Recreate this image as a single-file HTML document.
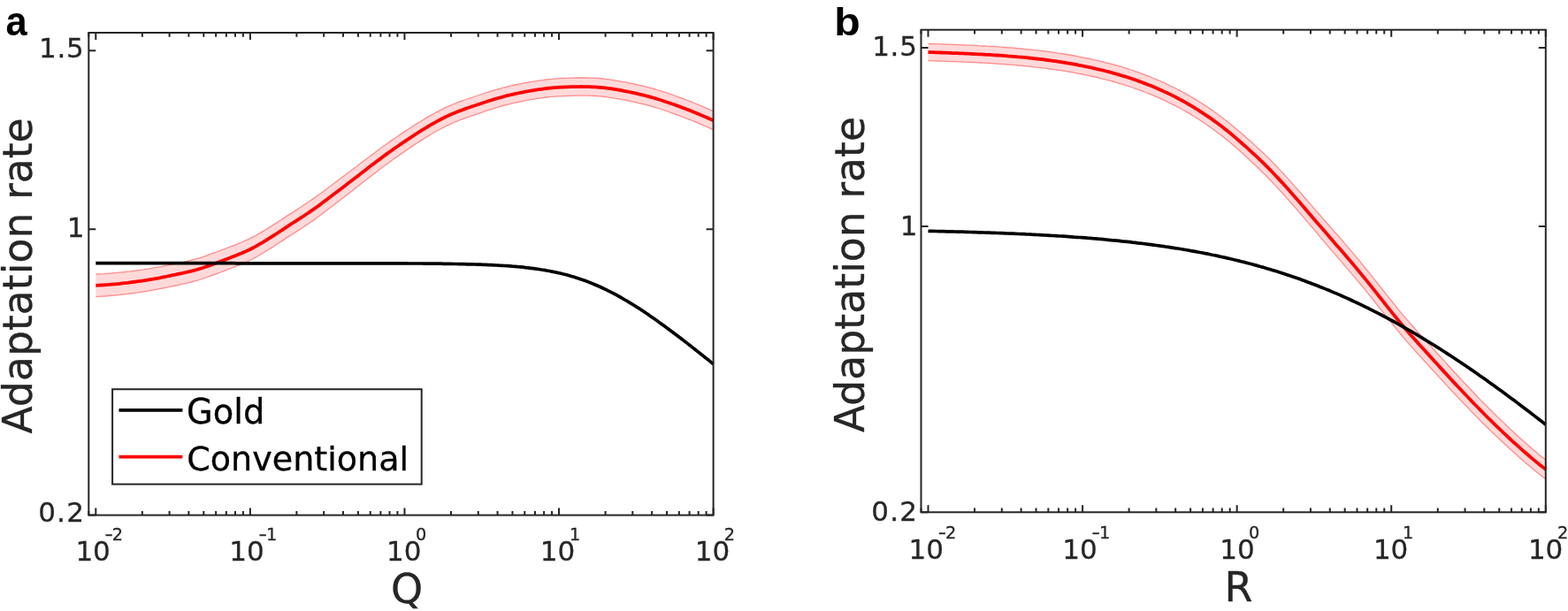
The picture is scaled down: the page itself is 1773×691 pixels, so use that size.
<!DOCTYPE html>
<html><head><meta charset="utf-8"><title>Adaptation rate</title>
<style>
html,body{margin:0;padding:0;background:#fff;}
svg{display:block;}
text{font-family:"DejaVu Sans","Liberation Sans",sans-serif;fill:#262626;stroke:#262626;stroke-width:0.3px;}
.pl{font-family:"Liberation Sans",Arial,sans-serif;font-weight:bold;fill:#000;stroke:none;}
.lg{fill:#000;stroke:#000;}
</style></head>
<body>
<svg width="1773" height="691" viewBox="0 0 1773 691">
<rect width="1773" height="691" fill="#fff"/>
<path d="M108.3,310.2 111.3,310.0 114.3,309.9 117.3,309.7 120.3,309.4 123.3,309.2 126.3,309.0 129.3,308.7 132.3,308.4 135.3,308.1 138.3,307.8 141.3,307.5 144.3,307.2 147.3,306.9 150.3,306.5 153.3,306.1 156.3,305.7 159.3,305.3 162.3,304.9 165.3,304.4 168.3,303.9 171.3,303.4 174.3,302.9 177.3,302.4 180.3,301.8 183.3,301.3 186.3,300.7 189.3,300.1 192.3,299.4 195.3,298.8 198.3,298.2 201.3,297.5 204.3,296.9 207.3,296.3 210.3,295.6 213.3,295.0 216.3,294.2 219.3,293.5 222.3,292.6 225.3,291.8 228.3,290.8 231.3,289.8 234.3,288.8 237.3,287.7 240.3,286.7 243.3,285.6 246.3,284.5 249.3,283.3 252.3,282.2 255.3,281.0 258.3,279.9 261.3,278.7 264.3,277.6 267.3,276.4 270.3,275.2 273.3,274.0 276.3,272.7 279.3,271.3 282.3,269.9 285.3,268.4 288.3,266.8 291.3,265.1 294.3,263.4 297.3,261.6 300.3,259.8 303.3,257.9 306.3,256.1 309.3,254.1 312.3,252.2 315.3,250.3 318.3,248.3 321.3,246.4 324.3,244.4 327.3,242.4 330.3,240.5 333.3,238.6 336.3,236.6 339.3,234.7 342.3,232.8 345.3,230.8 348.3,228.8 351.3,226.7 354.3,224.6 357.3,222.5 360.3,220.3 363.3,218.2 366.3,215.9 369.3,213.7 372.3,211.4 375.3,209.2 378.3,206.9 381.3,204.7 384.3,202.4 387.3,200.1 390.3,197.9 393.3,195.6 396.3,193.4 399.3,191.1 402.3,188.9 405.3,186.6 408.3,184.3 411.3,182.0 414.3,179.7 417.3,177.5 420.3,175.2 423.3,173.0 426.3,170.7 429.3,168.5 432.3,166.3 435.3,164.2 438.3,162.0 441.3,159.9 444.3,157.8 447.3,155.7 450.3,153.7 453.3,151.6 456.3,149.6 459.3,147.6 462.3,145.7 465.3,143.7 468.3,141.8 471.3,139.9 474.3,138.0 477.3,136.2 480.3,134.4 483.3,132.6 486.3,130.9 489.3,129.2 492.3,127.5 495.3,125.9 498.3,124.3 501.3,122.8 504.3,121.4 507.3,120.1 510.3,118.8 513.3,117.5 516.3,116.4 519.3,115.2 522.3,114.1 525.3,113.0 528.3,112.0 531.3,111.0 534.3,110.0 537.3,109.0 540.3,108.0 543.3,107.0 546.3,106.0 549.3,105.0 552.3,104.1 555.3,103.1 558.3,102.2 561.3,101.3 564.3,100.5 567.3,99.7 570.3,98.9 573.3,98.1 576.3,97.4 579.3,96.7 582.3,96.0 585.3,95.4 588.3,94.8 591.3,94.2 594.3,93.7 597.3,93.1 600.3,92.6 603.3,92.1 606.3,91.7 609.3,91.2 612.3,90.8 615.3,90.4 618.3,90.0 621.3,89.7 624.3,89.4 627.3,89.1 630.3,88.9 633.3,88.7 636.3,88.5 639.3,88.4 642.3,88.3 645.3,88.2 648.3,88.1 651.3,88.0 654.3,88.0 657.3,88.0 660.3,88.0 663.3,88.0 666.3,88.1 669.3,88.2 672.3,88.3 675.3,88.5 678.3,88.7 681.3,89.0 684.3,89.4 687.3,89.7 690.3,90.2 693.3,90.6 696.3,91.1 699.3,91.6 702.3,92.1 705.3,92.7 708.3,93.2 711.3,93.8 714.3,94.4 717.3,95.0 720.3,95.7 723.3,96.4 726.3,97.1 729.3,97.8 732.3,98.6 735.3,99.4 738.3,100.2 741.3,101.1 744.3,102.0 747.3,102.9 750.3,103.9 753.3,104.9 756.3,105.9 759.3,106.9 762.3,108.0 765.3,109.1 768.3,110.1 771.3,111.2 774.3,112.3 777.3,113.5 780.3,114.6 783.3,115.8 786.3,117.0 789.3,118.3 792.3,119.5 795.3,120.8 798.3,122.1 801.3,123.4 804.3,124.8 806.6,125.8 L806.6,146.8 804.3,145.8 801.3,144.4 798.3,143.0 795.3,141.7 792.3,140.4 789.3,139.1 786.3,137.9 783.3,136.6 780.3,135.4 777.3,134.3 774.3,133.1 771.3,132.0 768.3,130.8 765.3,129.7 762.3,128.7 759.3,127.6 756.3,126.5 753.3,125.5 750.3,124.5 747.3,123.5 744.3,122.5 741.3,121.6 738.3,120.7 735.3,119.9 732.3,119.0 729.3,118.2 726.3,117.5 723.3,116.8 720.3,116.1 717.3,115.4 714.3,114.7 711.3,114.1 708.3,113.5 705.3,112.9 702.3,112.3 699.3,111.8 696.3,111.3 693.3,110.8 690.3,110.3 687.3,109.9 684.3,109.5 681.3,109.2 678.3,108.9 675.3,108.7 672.3,108.5 669.3,108.3 666.3,108.2 663.3,108.2 660.3,108.1 657.3,108.1 654.3,108.1 651.3,108.1 648.3,108.2 645.3,108.3 642.3,108.3 639.3,108.5 636.3,108.6 633.3,108.8 630.3,108.9 627.3,109.2 624.3,109.4 621.3,109.7 618.3,110.0 615.3,110.4 612.3,110.8 609.3,111.2 606.3,111.7 603.3,112.1 600.3,112.6 597.3,113.2 594.3,113.7 591.3,114.3 588.3,114.9 585.3,115.5 582.3,116.2 579.3,116.9 576.3,117.6 573.3,118.4 570.3,119.2 567.3,120.0 564.3,120.8 561.3,121.7 558.3,122.6 555.3,123.6 552.3,124.6 549.3,125.5 546.3,126.6 543.3,127.6 540.3,128.6 537.3,129.6 534.3,130.6 531.3,131.6 528.3,132.7 525.3,133.8 522.3,134.9 519.3,136.0 516.3,137.3 513.3,138.5 510.3,139.8 507.3,141.2 504.3,142.6 501.3,144.1 498.3,145.7 495.3,147.3 492.3,149.0 489.3,150.7 486.3,152.5 483.3,154.4 480.3,156.2 477.3,158.1 474.3,160.0 471.3,162.0 468.3,163.9 465.3,165.9 462.3,168.0 459.3,170.0 456.3,172.1 453.3,174.1 450.3,176.2 447.3,178.4 444.3,180.5 441.3,182.7 438.3,184.9 435.3,187.1 432.3,189.3 429.3,191.6 426.3,193.9 423.3,196.2 420.3,198.5 417.3,200.8 414.3,203.1 411.3,205.5 408.3,207.8 405.3,210.2 402.3,212.5 399.3,214.9 396.3,217.2 393.3,219.5 390.3,221.8 387.3,224.2 384.3,226.5 381.3,228.8 378.3,231.1 375.3,233.5 372.3,235.8 369.3,238.1 366.3,240.3 363.3,242.6 360.3,244.8 357.3,246.9 354.3,249.1 351.3,251.2 348.3,253.2 345.3,255.2 342.3,257.2 339.3,259.2 336.3,261.1 333.3,263.1 330.3,265.0 327.3,266.9 324.3,268.9 321.3,270.9 318.3,272.9 315.3,274.8 312.3,276.8 309.3,278.7 306.3,280.6 303.3,282.5 300.3,284.3 297.3,286.2 294.3,288.0 291.3,289.7 288.3,291.4 285.3,293.0 282.3,294.5 279.3,295.9 276.3,297.3 273.3,298.6 270.3,299.8 267.3,301.0 264.3,302.2 261.3,303.4 258.3,304.5 255.3,305.7 252.3,306.9 249.3,308.0 246.3,309.1 243.3,310.3 240.3,311.4 237.3,312.4 234.3,313.5 231.3,314.5 228.3,315.5 225.3,316.5 222.3,317.4 219.3,318.2 216.3,319.0 213.3,319.7 210.3,320.4 207.3,321.1 204.3,321.7 201.3,322.3 198.3,323.0 195.3,323.6 192.3,324.2 189.3,324.9 186.3,325.5 183.3,326.1 180.3,326.7 177.3,327.3 174.3,327.9 171.3,328.4 168.3,328.9 165.3,329.4 162.3,329.9 159.3,330.3 156.3,330.8 153.3,331.2 150.3,331.6 147.3,332.0 144.3,332.4 141.3,332.7 138.3,333.0 135.3,333.4 132.3,333.7 129.3,334.0 126.3,334.2 123.3,334.5 120.3,334.8 117.3,335.0 114.3,335.2 111.3,335.4 108.3,335.6 Z" fill="#ffd9d9" stroke="none"/>
<polyline points="108.3,310.2 111.3,310.0 114.3,309.9 117.3,309.7 120.3,309.4 123.3,309.2 126.3,309.0 129.3,308.7 132.3,308.4 135.3,308.1 138.3,307.8 141.3,307.5 144.3,307.2 147.3,306.9 150.3,306.5 153.3,306.1 156.3,305.7 159.3,305.3 162.3,304.9 165.3,304.4 168.3,303.9 171.3,303.4 174.3,302.9 177.3,302.4 180.3,301.8 183.3,301.3 186.3,300.7 189.3,300.1 192.3,299.4 195.3,298.8 198.3,298.2 201.3,297.5 204.3,296.9 207.3,296.3 210.3,295.6 213.3,295.0 216.3,294.2 219.3,293.5 222.3,292.6 225.3,291.8 228.3,290.8 231.3,289.8 234.3,288.8 237.3,287.7 240.3,286.7 243.3,285.6 246.3,284.5 249.3,283.3 252.3,282.2 255.3,281.0 258.3,279.9 261.3,278.7 264.3,277.6 267.3,276.4 270.3,275.2 273.3,274.0 276.3,272.7 279.3,271.3 282.3,269.9 285.3,268.4 288.3,266.8 291.3,265.1 294.3,263.4 297.3,261.6 300.3,259.8 303.3,257.9 306.3,256.1 309.3,254.1 312.3,252.2 315.3,250.3 318.3,248.3 321.3,246.4 324.3,244.4 327.3,242.4 330.3,240.5 333.3,238.6 336.3,236.6 339.3,234.7 342.3,232.8 345.3,230.8 348.3,228.8 351.3,226.7 354.3,224.6 357.3,222.5 360.3,220.3 363.3,218.2 366.3,215.9 369.3,213.7 372.3,211.4 375.3,209.2 378.3,206.9 381.3,204.7 384.3,202.4 387.3,200.1 390.3,197.9 393.3,195.6 396.3,193.4 399.3,191.1 402.3,188.9 405.3,186.6 408.3,184.3 411.3,182.0 414.3,179.7 417.3,177.5 420.3,175.2 423.3,173.0 426.3,170.7 429.3,168.5 432.3,166.3 435.3,164.2 438.3,162.0 441.3,159.9 444.3,157.8 447.3,155.7 450.3,153.7 453.3,151.6 456.3,149.6 459.3,147.6 462.3,145.7 465.3,143.7 468.3,141.8 471.3,139.9 474.3,138.0 477.3,136.2 480.3,134.4 483.3,132.6 486.3,130.9 489.3,129.2 492.3,127.5 495.3,125.9 498.3,124.3 501.3,122.8 504.3,121.4 507.3,120.1 510.3,118.8 513.3,117.5 516.3,116.4 519.3,115.2 522.3,114.1 525.3,113.0 528.3,112.0 531.3,111.0 534.3,110.0 537.3,109.0 540.3,108.0 543.3,107.0 546.3,106.0 549.3,105.0 552.3,104.1 555.3,103.1 558.3,102.2 561.3,101.3 564.3,100.5 567.3,99.7 570.3,98.9 573.3,98.1 576.3,97.4 579.3,96.7 582.3,96.0 585.3,95.4 588.3,94.8 591.3,94.2 594.3,93.7 597.3,93.1 600.3,92.6 603.3,92.1 606.3,91.7 609.3,91.2 612.3,90.8 615.3,90.4 618.3,90.0 621.3,89.7 624.3,89.4 627.3,89.1 630.3,88.9 633.3,88.7 636.3,88.5 639.3,88.4 642.3,88.3 645.3,88.2 648.3,88.1 651.3,88.0 654.3,88.0 657.3,88.0 660.3,88.0 663.3,88.0 666.3,88.1 669.3,88.2 672.3,88.3 675.3,88.5 678.3,88.7 681.3,89.0 684.3,89.4 687.3,89.7 690.3,90.2 693.3,90.6 696.3,91.1 699.3,91.6 702.3,92.1 705.3,92.7 708.3,93.2 711.3,93.8 714.3,94.4 717.3,95.0 720.3,95.7 723.3,96.4 726.3,97.1 729.3,97.8 732.3,98.6 735.3,99.4 738.3,100.2 741.3,101.1 744.3,102.0 747.3,102.9 750.3,103.9 753.3,104.9 756.3,105.9 759.3,106.9 762.3,108.0 765.3,109.1 768.3,110.1 771.3,111.2 774.3,112.3 777.3,113.5 780.3,114.6 783.3,115.8 786.3,117.0 789.3,118.3 792.3,119.5 795.3,120.8 798.3,122.1 801.3,123.4 804.3,124.8 806.6,125.8" fill="none" stroke="#ff8c8c" stroke-width="1.3"/>
<polyline points="108.3,335.6 111.3,335.4 114.3,335.2 117.3,335.0 120.3,334.8 123.3,334.5 126.3,334.2 129.3,334.0 132.3,333.7 135.3,333.4 138.3,333.0 141.3,332.7 144.3,332.4 147.3,332.0 150.3,331.6 153.3,331.2 156.3,330.8 159.3,330.3 162.3,329.9 165.3,329.4 168.3,328.9 171.3,328.4 174.3,327.9 177.3,327.3 180.3,326.7 183.3,326.1 186.3,325.5 189.3,324.9 192.3,324.2 195.3,323.6 198.3,323.0 201.3,322.3 204.3,321.7 207.3,321.1 210.3,320.4 213.3,319.7 216.3,319.0 219.3,318.2 222.3,317.4 225.3,316.5 228.3,315.5 231.3,314.5 234.3,313.5 237.3,312.4 240.3,311.4 243.3,310.3 246.3,309.1 249.3,308.0 252.3,306.9 255.3,305.7 258.3,304.5 261.3,303.4 264.3,302.2 267.3,301.0 270.3,299.8 273.3,298.6 276.3,297.3 279.3,295.9 282.3,294.5 285.3,293.0 288.3,291.4 291.3,289.7 294.3,288.0 297.3,286.2 300.3,284.3 303.3,282.5 306.3,280.6 309.3,278.7 312.3,276.8 315.3,274.8 318.3,272.9 321.3,270.9 324.3,268.9 327.3,266.9 330.3,265.0 333.3,263.1 336.3,261.1 339.3,259.2 342.3,257.2 345.3,255.2 348.3,253.2 351.3,251.2 354.3,249.1 357.3,246.9 360.3,244.8 363.3,242.6 366.3,240.3 369.3,238.1 372.3,235.8 375.3,233.5 378.3,231.1 381.3,228.8 384.3,226.5 387.3,224.2 390.3,221.8 393.3,219.5 396.3,217.2 399.3,214.9 402.3,212.5 405.3,210.2 408.3,207.8 411.3,205.5 414.3,203.1 417.3,200.8 420.3,198.5 423.3,196.2 426.3,193.9 429.3,191.6 432.3,189.3 435.3,187.1 438.3,184.9 441.3,182.7 444.3,180.5 447.3,178.4 450.3,176.2 453.3,174.1 456.3,172.1 459.3,170.0 462.3,168.0 465.3,165.9 468.3,163.9 471.3,162.0 474.3,160.0 477.3,158.1 480.3,156.2 483.3,154.4 486.3,152.5 489.3,150.7 492.3,149.0 495.3,147.3 498.3,145.7 501.3,144.1 504.3,142.6 507.3,141.2 510.3,139.8 513.3,138.5 516.3,137.3 519.3,136.0 522.3,134.9 525.3,133.8 528.3,132.7 531.3,131.6 534.3,130.6 537.3,129.6 540.3,128.6 543.3,127.6 546.3,126.6 549.3,125.5 552.3,124.6 555.3,123.6 558.3,122.6 561.3,121.7 564.3,120.8 567.3,120.0 570.3,119.2 573.3,118.4 576.3,117.6 579.3,116.9 582.3,116.2 585.3,115.5 588.3,114.9 591.3,114.3 594.3,113.7 597.3,113.2 600.3,112.6 603.3,112.1 606.3,111.7 609.3,111.2 612.3,110.8 615.3,110.4 618.3,110.0 621.3,109.7 624.3,109.4 627.3,109.2 630.3,108.9 633.3,108.8 636.3,108.6 639.3,108.5 642.3,108.3 645.3,108.3 648.3,108.2 651.3,108.1 654.3,108.1 657.3,108.1 660.3,108.1 663.3,108.2 666.3,108.2 669.3,108.3 672.3,108.5 675.3,108.7 678.3,108.9 681.3,109.2 684.3,109.5 687.3,109.9 690.3,110.3 693.3,110.8 696.3,111.3 699.3,111.8 702.3,112.3 705.3,112.9 708.3,113.5 711.3,114.1 714.3,114.7 717.3,115.4 720.3,116.1 723.3,116.8 726.3,117.5 729.3,118.2 732.3,119.0 735.3,119.9 738.3,120.7 741.3,121.6 744.3,122.5 747.3,123.5 750.3,124.5 753.3,125.5 756.3,126.5 759.3,127.6 762.3,128.7 765.3,129.7 768.3,130.8 771.3,132.0 774.3,133.1 777.3,134.3 780.3,135.4 783.3,136.6 786.3,137.9 789.3,139.1 792.3,140.4 795.3,141.7 798.3,143.0 801.3,144.4 804.3,145.8 806.6,146.8" fill="none" stroke="#ff8c8c" stroke-width="1.3"/>
<polyline points="108.3,322.9 111.3,322.7 114.3,322.5 117.3,322.3 120.3,322.1 123.3,321.9 126.3,321.6 129.3,321.3 132.3,321.1 135.3,320.8 138.3,320.4 141.3,320.1 144.3,319.8 147.3,319.4 150.3,319.0 153.3,318.6 156.3,318.2 159.3,317.8 162.3,317.4 165.3,316.9 168.3,316.4 171.3,315.9 174.3,315.4 177.3,314.8 180.3,314.3 183.3,313.7 186.3,313.1 189.3,312.5 192.3,311.8 195.3,311.2 198.3,310.6 201.3,309.9 204.3,309.3 207.3,308.7 210.3,308.0 213.3,307.3 216.3,306.6 219.3,305.8 222.3,305.0 225.3,304.1 228.3,303.2 231.3,302.2 234.3,301.1 237.3,300.1 240.3,299.0 243.3,297.9 246.3,296.8 249.3,295.7 252.3,294.5 255.3,293.4 258.3,292.2 261.3,291.0 264.3,289.9 267.3,288.7 270.3,287.5 273.3,286.3 276.3,285.0 279.3,283.6 282.3,282.2 285.3,280.7 288.3,279.1 291.3,277.4 294.3,275.7 297.3,273.9 300.3,272.1 303.3,270.2 306.3,268.3 309.3,266.4 312.3,264.5 315.3,262.5 318.3,260.6 321.3,258.6 324.3,256.7 327.3,254.7 330.3,252.7 333.3,250.8 336.3,248.9 339.3,246.9 342.3,245.0 345.3,243.0 348.3,241.0 351.3,238.9 354.3,236.9 357.3,234.7 360.3,232.6 363.3,230.4 366.3,228.1 369.3,225.9 372.3,223.6 375.3,221.3 378.3,219.0 381.3,216.7 384.3,214.4 387.3,212.2 390.3,209.9 393.3,207.6 396.3,205.3 399.3,203.0 402.3,200.7 405.3,198.4 408.3,196.1 411.3,193.7 414.3,191.4 417.3,189.1 420.3,186.8 423.3,184.6 426.3,182.3 429.3,180.1 432.3,177.8 435.3,175.6 438.3,173.4 441.3,171.3 444.3,169.1 447.3,167.0 450.3,165.0 453.3,162.9 456.3,160.8 459.3,158.8 462.3,156.8 465.3,154.8 468.3,152.9 471.3,150.9 474.3,149.0 477.3,147.2 480.3,145.3 483.3,143.5 486.3,141.7 489.3,140.0 492.3,138.3 495.3,136.6 498.3,135.0 501.3,133.5 504.3,132.0 507.3,130.6 510.3,129.3 513.3,128.0 516.3,126.8 519.3,125.6 522.3,124.5 525.3,123.4 528.3,122.3 531.3,121.3 534.3,120.3 537.3,119.3 540.3,118.3 543.3,117.3 546.3,116.3 549.3,115.3 552.3,114.3 555.3,113.4 558.3,112.4 561.3,111.5 564.3,110.7 567.3,109.8 570.3,109.0 573.3,108.2 576.3,107.5 579.3,106.8 582.3,106.1 585.3,105.5 588.3,104.9 591.3,104.3 594.3,103.7 597.3,103.2 600.3,102.6 603.3,102.1 606.3,101.7 609.3,101.2 612.3,100.8 615.3,100.4 618.3,100.0 621.3,99.7 624.3,99.4 627.3,99.1 630.3,98.9 633.3,98.7 636.3,98.6 639.3,98.4 642.3,98.3 645.3,98.2 648.3,98.1 651.3,98.1 654.3,98.1 657.3,98.0 660.3,98.1 663.3,98.1 666.3,98.2 669.3,98.3 672.3,98.4 675.3,98.6 678.3,98.8 681.3,99.1 684.3,99.4 687.3,99.8 690.3,100.2 693.3,100.7 696.3,101.2 699.3,101.7 702.3,102.2 705.3,102.8 708.3,103.4 711.3,104.0 714.3,104.6 717.3,105.2 720.3,105.9 723.3,106.6 726.3,107.3 729.3,108.0 732.3,108.8 735.3,109.6 738.3,110.5 741.3,111.4 744.3,112.3 747.3,113.2 750.3,114.2 753.3,115.2 756.3,116.2 759.3,117.3 762.3,118.3 765.3,119.4 768.3,120.5 771.3,121.6 774.3,122.7 777.3,123.9 780.3,125.0 783.3,126.2 786.3,127.4 789.3,128.7 792.3,130.0 795.3,131.2 798.3,132.6 801.3,133.9 804.3,135.3 806.6,136.3" fill="none" stroke="#ff0000" stroke-width="3.8" stroke-linejoin="round"/>
<polyline points="108.3,297.7 111.3,297.7 114.3,297.7 117.3,297.7 120.3,297.7 123.3,297.7 126.3,297.7 129.3,297.7 132.3,297.7 135.3,297.7 138.3,297.7 141.3,297.7 144.3,297.7 147.3,297.7 150.3,297.7 153.3,297.7 156.3,297.7 159.3,297.7 162.3,297.7 165.3,297.7 168.3,297.7 171.3,297.7 174.3,297.7 177.3,297.7 180.3,297.7 183.3,297.7 186.3,297.7 189.3,297.7 192.3,297.7 195.3,297.7 198.3,297.7 201.3,297.7 204.3,297.7 207.3,297.7 210.3,297.7 213.3,297.7 216.3,297.7 219.3,297.7 222.3,297.7 225.3,297.7 228.3,297.7 231.3,297.7 234.3,297.7 237.3,297.7 240.3,297.7 243.3,297.7 246.3,297.7 249.3,297.7 252.3,297.7 255.3,297.7 258.3,297.7 261.3,297.7 264.3,297.7 267.3,297.8 270.3,297.8 273.3,297.8 276.3,297.8 279.3,297.8 282.3,297.8 285.3,297.8 288.3,297.8 291.3,297.8 294.3,297.8 297.3,297.8 300.3,297.8 303.3,297.8 306.3,297.8 309.3,297.8 312.3,297.8 315.3,297.8 318.3,297.8 321.3,297.8 324.3,297.8 327.3,297.8 330.3,297.8 333.3,297.8 336.3,297.8 339.3,297.8 342.3,297.8 345.3,297.8 348.3,297.8 351.3,297.8 354.3,297.8 357.3,297.8 360.3,297.8 363.3,297.8 366.3,297.8 369.3,297.8 372.3,297.8 375.3,297.8 378.3,297.8 381.3,297.8 384.3,297.8 387.3,297.8 390.3,297.8 393.3,297.8 396.3,297.8 399.3,297.8 402.3,297.8 405.3,297.8 408.3,297.8 411.3,297.8 414.3,297.8 417.3,297.8 420.3,297.8 423.3,297.8 426.3,297.8 429.3,297.8 432.3,297.8 435.3,297.9 438.3,297.9 441.3,297.9 444.3,297.9 447.3,297.9 450.3,297.9 453.3,297.9 456.3,297.9 459.3,297.9 462.3,298.0 465.3,298.0 468.3,298.0 471.3,298.0 474.3,298.0 477.3,298.0 480.3,298.1 483.3,298.1 486.3,298.1 489.3,298.1 492.3,298.2 495.3,298.2 498.3,298.2 501.3,298.3 504.3,298.3 507.3,298.4 510.3,298.4 513.3,298.5 516.3,298.5 519.3,298.6 522.3,298.6 525.3,298.7 528.3,298.8 531.3,298.8 534.3,298.9 537.3,299.0 540.3,299.1 543.3,299.2 546.3,299.3 549.3,299.4 552.3,299.6 555.3,299.7 558.3,299.8 561.3,300.0 564.3,300.2 567.3,300.3 570.3,300.5 573.3,300.7 576.3,300.9 579.3,301.2 582.3,301.4 585.3,301.7 588.3,301.9 591.3,302.2 594.3,302.6 597.3,302.9 600.3,303.3 603.3,303.7 606.3,304.1 609.3,304.5 612.3,305.0 615.3,305.4 618.3,306.0 621.3,306.5 624.3,307.1 627.3,307.7 630.3,308.4 633.3,309.0 636.3,309.8 639.3,310.5 642.3,311.3 645.3,312.2 648.3,313.1 651.3,314.0 654.3,314.9 657.3,316.0 660.3,317.0 663.3,318.1 666.3,319.3 669.3,320.4 672.3,321.7 675.3,323.0 678.3,324.3 681.3,325.7 684.3,327.1 687.3,328.6 690.3,330.1 693.3,331.6 696.3,333.2 699.3,334.9 702.3,336.5 705.3,338.3 708.3,340.0 711.3,341.8 714.3,343.6 717.3,345.5 720.3,347.4 723.3,349.3 726.3,351.3 729.3,353.3 732.3,355.3 735.3,357.4 738.3,359.5 741.3,361.6 744.3,363.7 747.3,365.9 750.3,368.1 753.3,370.2 756.3,372.5 759.3,374.7 762.3,377.0 765.3,379.2 768.3,381.5 771.3,383.8 774.3,386.1 777.3,388.4 780.3,390.8 783.3,393.1 786.3,395.5 789.3,397.9 792.3,400.2 795.3,402.6 798.3,405.0 801.3,407.4 804.3,409.9 806.6,411.7" fill="none" stroke="#000" stroke-width="3.7" stroke-linejoin="round"/>
<path d="M100.31,582.60V577.90M100.31,37.00V41.70M108.30,582.60V574.60M108.30,37.00V45.00M160.85,582.60V577.90M160.85,37.00V41.70M191.59,582.60V577.90M191.59,37.00V41.70M213.40,582.60V577.90M213.40,37.00V41.70M230.32,582.60V577.90M230.32,37.00V41.70M244.15,582.60V577.90M244.15,37.00V41.70M255.83,582.60V577.90M255.83,37.00V41.70M265.96,582.60V577.90M265.96,37.00V41.70M274.89,582.60V577.90M274.89,37.00V41.70M282.88,582.60V574.60M282.88,37.00V45.00M335.43,582.60V577.90M335.43,37.00V41.70M366.17,582.60V577.90M366.17,37.00V41.70M387.98,582.60V577.90M387.98,37.00V41.70M404.90,582.60V577.90M404.90,37.00V41.70M418.72,582.60V577.90M418.72,37.00V41.70M430.41,582.60V577.90M430.41,37.00V41.70M440.53,582.60V577.90M440.53,37.00V41.70M449.46,582.60V577.90M449.46,37.00V41.70M457.45,582.60V574.60M457.45,37.00V45.00M510.00,582.60V577.90M510.00,37.00V41.70M540.74,582.60V577.90M540.74,37.00V41.70M562.55,582.60V577.90M562.55,37.00V41.70M579.47,582.60V577.90M579.47,37.00V41.70M593.30,582.60V577.90M593.30,37.00V41.70M604.98,582.60V577.90M604.98,37.00V41.70M615.11,582.60V577.90M615.11,37.00V41.70M624.04,582.60V577.90M624.04,37.00V41.70M632.02,582.60V574.60M632.02,37.00V45.00M684.58,582.60V577.90M684.58,37.00V41.70M715.32,582.60V577.90M715.32,37.00V41.70M737.13,582.60V577.90M737.13,37.00V41.70M754.05,582.60V577.90M754.05,37.00V41.70M767.87,582.60V577.90M767.87,37.00V41.70M779.56,582.60V577.90M779.56,37.00V41.70M789.68,582.60V577.90M789.68,37.00V41.70M798.61,582.60V577.90M798.61,37.00V41.70M806.60,582.60V574.60M806.60,37.00V45.00M100.31,582.60H108.31M806.60,582.60H798.60M100.31,259.28H108.31M806.60,259.28H798.60M100.31,57.21H108.31M806.60,57.21H798.60" fill="none" stroke="#262626" stroke-width="2"/>
<rect x="100.31" y="37.00" width="706.29" height="545.60" fill="none" stroke="#262626" stroke-width="2"/>
<text x="44.09" y="65.30" font-size="31.0" letter-spacing="0.71">1.5</text>
<text x="75.69" y="267.60" font-size="31.0">1</text>
<text x="43.16" y="590.40" font-size="31.0" letter-spacing="1.22">0.2</text>
<text x="85.39" y="634.10" font-size="31.0">10</text>
<text x="118.64" y="611.30" font-size="19.3" textLength="9.33" lengthAdjust="spacingAndGlyphs">-</text>
<text x="126.79" y="611.30" font-size="19.3">2</text>
<text x="259.19" y="634.10" font-size="31.0">10</text>
<text x="292.44" y="611.30" font-size="19.3" textLength="9.33" lengthAdjust="spacingAndGlyphs">-</text>
<text x="300.88" y="611.30" font-size="19.3">1</text>
<text x="437.09" y="634.10" font-size="31.0">10</text>
<text x="469.93" y="611.30" font-size="19.3">0</text>
<text x="610.79" y="634.10" font-size="31.0">10</text>
<text x="643.88" y="611.30" font-size="19.3">1</text>
<text x="785.79" y="634.10" font-size="31.0">10</text>
<text x="818.79" y="611.30" font-size="19.3">2</text>
<path d="M1049.5,49.4 1052.5,49.5 1055.5,49.6 1058.5,49.7 1061.5,49.8 1064.5,49.9 1067.5,50.0 1070.5,50.1 1073.5,50.2 1076.5,50.4 1079.5,50.5 1082.5,50.6 1085.5,50.7 1088.5,50.8 1091.5,51.0 1094.5,51.1 1097.5,51.2 1100.5,51.4 1103.5,51.5 1106.5,51.7 1109.5,51.8 1112.5,52.0 1115.5,52.2 1118.5,52.3 1121.5,52.5 1124.5,52.7 1127.5,52.9 1130.5,53.1 1133.5,53.3 1136.5,53.5 1139.5,53.8 1142.5,54.0 1145.5,54.2 1148.5,54.5 1151.5,54.8 1154.5,55.0 1157.5,55.3 1160.5,55.6 1163.5,55.9 1166.5,56.2 1169.5,56.6 1172.5,56.9 1175.5,57.2 1178.5,57.6 1181.5,58.0 1184.5,58.4 1187.5,58.8 1190.5,59.2 1193.5,59.6 1196.5,60.1 1199.5,60.5 1202.5,61.0 1205.5,61.5 1208.5,62.0 1211.5,62.5 1214.5,63.0 1217.5,63.6 1220.5,64.2 1223.5,64.8 1226.5,65.4 1229.5,66.0 1232.5,66.6 1235.5,67.3 1238.5,67.9 1241.5,68.6 1244.5,69.3 1247.5,70.0 1250.5,70.8 1253.5,71.6 1256.5,72.4 1259.5,73.2 1262.5,74.0 1265.5,74.9 1268.5,75.7 1271.5,76.7 1274.5,77.6 1277.5,78.5 1280.5,79.5 1283.5,80.6 1286.5,81.6 1289.5,82.7 1292.5,83.8 1295.5,84.9 1298.5,86.1 1301.5,87.3 1304.5,88.5 1307.5,89.8 1310.5,91.0 1313.5,92.4 1316.5,93.7 1319.5,95.1 1322.5,96.6 1325.5,98.0 1328.5,99.5 1331.5,101.1 1334.5,102.6 1337.5,104.2 1340.5,105.9 1343.5,107.6 1346.5,109.3 1349.5,111.1 1352.5,112.9 1355.5,114.7 1358.5,116.6 1361.5,118.6 1364.5,120.5 1367.5,122.6 1370.5,124.6 1373.5,126.8 1376.5,128.9 1379.5,131.2 1382.5,133.4 1385.5,135.7 1388.5,138.0 1391.5,140.4 1394.5,142.9 1397.5,145.4 1400.5,147.9 1403.5,150.5 1406.5,153.1 1409.5,155.8 1412.5,158.4 1415.5,161.1 1418.5,163.9 1421.5,166.6 1424.5,169.4 1427.5,172.2 1430.5,175.1 1433.5,178.0 1436.5,181.0 1439.5,184.1 1442.5,187.2 1445.5,190.4 1448.5,193.6 1451.5,196.8 1454.5,200.1 1457.5,203.4 1460.5,206.7 1463.5,210.1 1466.5,213.5 1469.5,216.9 1472.5,220.3 1475.5,223.7 1478.5,227.2 1481.5,230.7 1484.5,234.1 1487.5,237.6 1490.5,241.0 1493.5,244.5 1496.5,247.9 1499.5,251.3 1502.5,254.7 1505.5,258.1 1508.5,261.6 1511.5,265.0 1514.5,268.4 1517.5,271.8 1520.5,275.3 1523.5,278.8 1526.5,282.3 1529.5,285.8 1532.5,289.4 1535.5,293.0 1538.5,296.6 1541.5,300.3 1544.5,304.0 1547.5,307.7 1550.5,311.4 1553.5,315.2 1556.5,319.0 1559.5,322.8 1562.5,326.6 1565.5,330.4 1568.5,334.2 1571.5,338.0 1574.5,341.7 1577.5,345.4 1580.5,349.1 1583.5,352.8 1586.5,356.3 1589.5,359.9 1592.5,363.4 1595.5,366.8 1598.5,370.2 1601.5,373.6 1604.5,376.9 1607.5,380.2 1610.5,383.5 1613.5,386.8 1616.5,390.1 1619.5,393.4 1622.5,396.7 1625.5,400.0 1628.5,403.3 1631.5,406.6 1634.5,409.9 1637.5,413.2 1640.5,416.5 1643.5,419.7 1646.5,423.0 1649.5,426.2 1652.5,429.4 1655.5,432.7 1658.5,435.8 1661.5,439.0 1664.5,442.2 1667.5,445.3 1670.5,448.5 1673.5,451.6 1676.5,454.7 1679.5,457.7 1682.5,460.8 1685.5,463.8 1688.5,466.7 1691.5,469.7 1694.5,472.6 1697.5,475.5 1700.5,478.4 1703.5,481.2 1706.5,484.1 1709.5,486.9 1712.5,489.7 1715.5,492.5 1718.5,495.2 1721.5,497.9 1724.5,500.6 1727.5,503.2 1730.5,505.8 1733.5,508.4 1736.5,510.9 1739.5,513.4 1742.5,515.9 1745.5,518.3 1747.8,520.1 L1747.8,541.7 1745.5,540.0 1742.5,537.7 1739.5,535.3 1736.5,532.9 1733.5,530.4 1730.5,527.9 1727.5,525.4 1724.5,522.9 1721.5,520.3 1718.5,517.7 1715.5,515.0 1712.5,512.3 1709.5,509.6 1706.5,506.9 1703.5,504.1 1700.5,501.3 1697.5,498.5 1694.5,495.7 1691.5,492.9 1688.5,490.0 1685.5,487.1 1682.5,484.2 1679.5,481.2 1676.5,478.2 1673.5,475.2 1670.5,472.1 1667.5,469.1 1664.5,466.0 1661.5,462.9 1658.5,459.8 1655.5,456.7 1652.5,453.5 1649.5,450.4 1646.5,447.2 1643.5,444.0 1640.5,440.8 1637.5,437.6 1634.5,434.4 1631.5,431.1 1628.5,427.9 1625.5,424.6 1622.5,421.3 1619.5,418.0 1616.5,414.7 1613.5,411.4 1610.5,408.2 1607.5,404.9 1604.5,401.6 1601.5,398.3 1598.5,394.9 1595.5,391.6 1592.5,388.1 1589.5,384.6 1586.5,381.1 1583.5,377.5 1580.5,373.9 1577.5,370.2 1574.5,366.5 1571.5,362.8 1568.5,359.0 1565.5,355.2 1562.5,351.4 1559.5,347.6 1556.5,343.8 1553.5,340.1 1550.5,336.3 1547.5,332.6 1544.5,328.9 1541.5,325.2 1538.5,321.5 1535.5,317.9 1532.5,314.4 1529.5,310.8 1526.5,307.3 1523.5,303.8 1520.5,300.3 1517.5,296.8 1514.5,293.2 1511.5,289.8 1508.5,286.3 1505.5,282.8 1502.5,279.3 1499.5,275.8 1496.5,272.3 1493.5,268.8 1490.5,265.3 1487.5,261.7 1484.5,258.2 1481.5,254.7 1478.5,251.1 1475.5,247.6 1472.5,244.1 1469.5,240.6 1466.5,237.1 1463.5,233.6 1460.5,230.2 1457.5,226.8 1454.5,223.4 1451.5,220.0 1448.5,216.7 1445.5,213.4 1442.5,210.1 1439.5,206.9 1436.5,203.8 1433.5,200.7 1430.5,197.6 1427.5,194.7 1424.5,191.7 1421.5,188.8 1418.5,186.0 1415.5,183.2 1412.5,180.4 1409.5,177.6 1406.5,174.8 1403.5,172.1 1400.5,169.4 1397.5,166.8 1394.5,164.2 1391.5,161.6 1388.5,159.1 1385.5,156.7 1382.5,154.3 1379.5,151.9 1376.5,149.7 1373.5,147.4 1370.5,145.3 1367.5,143.1 1364.5,141.0 1361.5,139.0 1358.5,137.0 1355.5,135.0 1352.5,133.1 1349.5,131.3 1346.5,129.4 1343.5,127.6 1340.5,125.9 1337.5,124.2 1334.5,122.5 1331.5,120.9 1328.5,119.3 1325.5,117.8 1322.5,116.3 1319.5,114.9 1316.5,113.5 1313.5,112.1 1310.5,110.7 1307.5,109.4 1304.5,108.1 1301.5,106.9 1298.5,105.7 1295.5,104.5 1292.5,103.3 1289.5,102.2 1286.5,101.1 1283.5,100.1 1280.5,99.0 1277.5,98.0 1274.5,97.1 1271.5,96.1 1268.5,95.2 1265.5,94.3 1262.5,93.4 1259.5,92.5 1256.5,91.7 1253.5,90.9 1250.5,90.1 1247.5,89.4 1244.5,88.6 1241.5,87.9 1238.5,87.2 1235.5,86.5 1232.5,85.8 1229.5,85.2 1226.5,84.6 1223.5,84.0 1220.5,83.4 1217.5,82.8 1214.5,82.2 1211.5,81.7 1208.5,81.2 1205.5,80.7 1202.5,80.2 1199.5,79.7 1196.5,79.3 1193.5,78.8 1190.5,78.4 1187.5,78.0 1184.5,77.6 1181.5,77.2 1178.5,76.8 1175.5,76.4 1172.5,76.1 1169.5,75.8 1166.5,75.4 1163.5,75.1 1160.5,74.8 1157.5,74.5 1154.5,74.2 1151.5,74.0 1148.5,73.7 1145.5,73.4 1142.5,73.2 1139.5,73.0 1136.5,72.7 1133.5,72.5 1130.5,72.3 1127.5,72.1 1124.5,71.9 1121.5,71.7 1118.5,71.5 1115.5,71.4 1112.5,71.2 1109.5,71.0 1106.5,70.9 1103.5,70.7 1100.5,70.6 1097.5,70.4 1094.5,70.3 1091.5,70.2 1088.5,70.0 1085.5,69.9 1082.5,69.8 1079.5,69.7 1076.5,69.6 1073.5,69.4 1070.5,69.3 1067.5,69.2 1064.5,69.1 1061.5,69.0 1058.5,68.9 1055.5,68.8 1052.5,68.7 1049.5,68.6 Z" fill="#ffd9d9" stroke="none"/>
<polyline points="1049.5,49.4 1052.5,49.5 1055.5,49.6 1058.5,49.7 1061.5,49.8 1064.5,49.9 1067.5,50.0 1070.5,50.1 1073.5,50.2 1076.5,50.4 1079.5,50.5 1082.5,50.6 1085.5,50.7 1088.5,50.8 1091.5,51.0 1094.5,51.1 1097.5,51.2 1100.5,51.4 1103.5,51.5 1106.5,51.7 1109.5,51.8 1112.5,52.0 1115.5,52.2 1118.5,52.3 1121.5,52.5 1124.5,52.7 1127.5,52.9 1130.5,53.1 1133.5,53.3 1136.5,53.5 1139.5,53.8 1142.5,54.0 1145.5,54.2 1148.5,54.5 1151.5,54.8 1154.5,55.0 1157.5,55.3 1160.5,55.6 1163.5,55.9 1166.5,56.2 1169.5,56.6 1172.5,56.9 1175.5,57.2 1178.5,57.6 1181.5,58.0 1184.5,58.4 1187.5,58.8 1190.5,59.2 1193.5,59.6 1196.5,60.1 1199.5,60.5 1202.5,61.0 1205.5,61.5 1208.5,62.0 1211.5,62.5 1214.5,63.0 1217.5,63.6 1220.5,64.2 1223.5,64.8 1226.5,65.4 1229.5,66.0 1232.5,66.6 1235.5,67.3 1238.5,67.9 1241.5,68.6 1244.5,69.3 1247.5,70.0 1250.5,70.8 1253.5,71.6 1256.5,72.4 1259.5,73.2 1262.5,74.0 1265.5,74.9 1268.5,75.7 1271.5,76.7 1274.5,77.6 1277.5,78.5 1280.5,79.5 1283.5,80.6 1286.5,81.6 1289.5,82.7 1292.5,83.8 1295.5,84.9 1298.5,86.1 1301.5,87.3 1304.5,88.5 1307.5,89.8 1310.5,91.0 1313.5,92.4 1316.5,93.7 1319.5,95.1 1322.5,96.6 1325.5,98.0 1328.5,99.5 1331.5,101.1 1334.5,102.6 1337.5,104.2 1340.5,105.9 1343.5,107.6 1346.5,109.3 1349.5,111.1 1352.5,112.9 1355.5,114.7 1358.5,116.6 1361.5,118.6 1364.5,120.5 1367.5,122.6 1370.5,124.6 1373.5,126.8 1376.5,128.9 1379.5,131.2 1382.5,133.4 1385.5,135.7 1388.5,138.0 1391.5,140.4 1394.5,142.9 1397.5,145.4 1400.5,147.9 1403.5,150.5 1406.5,153.1 1409.5,155.8 1412.5,158.4 1415.5,161.1 1418.5,163.9 1421.5,166.6 1424.5,169.4 1427.5,172.2 1430.5,175.1 1433.5,178.0 1436.5,181.0 1439.5,184.1 1442.5,187.2 1445.5,190.4 1448.5,193.6 1451.5,196.8 1454.5,200.1 1457.5,203.4 1460.5,206.7 1463.5,210.1 1466.5,213.5 1469.5,216.9 1472.5,220.3 1475.5,223.7 1478.5,227.2 1481.5,230.7 1484.5,234.1 1487.5,237.6 1490.5,241.0 1493.5,244.5 1496.5,247.9 1499.5,251.3 1502.5,254.7 1505.5,258.1 1508.5,261.6 1511.5,265.0 1514.5,268.4 1517.5,271.8 1520.5,275.3 1523.5,278.8 1526.5,282.3 1529.5,285.8 1532.5,289.4 1535.5,293.0 1538.5,296.6 1541.5,300.3 1544.5,304.0 1547.5,307.7 1550.5,311.4 1553.5,315.2 1556.5,319.0 1559.5,322.8 1562.5,326.6 1565.5,330.4 1568.5,334.2 1571.5,338.0 1574.5,341.7 1577.5,345.4 1580.5,349.1 1583.5,352.8 1586.5,356.3 1589.5,359.9 1592.5,363.4 1595.5,366.8 1598.5,370.2 1601.5,373.6 1604.5,376.9 1607.5,380.2 1610.5,383.5 1613.5,386.8 1616.5,390.1 1619.5,393.4 1622.5,396.7 1625.5,400.0 1628.5,403.3 1631.5,406.6 1634.5,409.9 1637.5,413.2 1640.5,416.5 1643.5,419.7 1646.5,423.0 1649.5,426.2 1652.5,429.4 1655.5,432.7 1658.5,435.8 1661.5,439.0 1664.5,442.2 1667.5,445.3 1670.5,448.5 1673.5,451.6 1676.5,454.7 1679.5,457.7 1682.5,460.8 1685.5,463.8 1688.5,466.7 1691.5,469.7 1694.5,472.6 1697.5,475.5 1700.5,478.4 1703.5,481.2 1706.5,484.1 1709.5,486.9 1712.5,489.7 1715.5,492.5 1718.5,495.2 1721.5,497.9 1724.5,500.6 1727.5,503.2 1730.5,505.8 1733.5,508.4 1736.5,510.9 1739.5,513.4 1742.5,515.9 1745.5,518.3 1747.8,520.1" fill="none" stroke="#ff8c8c" stroke-width="1.3"/>
<polyline points="1049.5,68.6 1052.5,68.7 1055.5,68.8 1058.5,68.9 1061.5,69.0 1064.5,69.1 1067.5,69.2 1070.5,69.3 1073.5,69.4 1076.5,69.6 1079.5,69.7 1082.5,69.8 1085.5,69.9 1088.5,70.0 1091.5,70.2 1094.5,70.3 1097.5,70.4 1100.5,70.6 1103.5,70.7 1106.5,70.9 1109.5,71.0 1112.5,71.2 1115.5,71.4 1118.5,71.5 1121.5,71.7 1124.5,71.9 1127.5,72.1 1130.5,72.3 1133.5,72.5 1136.5,72.7 1139.5,73.0 1142.5,73.2 1145.5,73.4 1148.5,73.7 1151.5,74.0 1154.5,74.2 1157.5,74.5 1160.5,74.8 1163.5,75.1 1166.5,75.4 1169.5,75.8 1172.5,76.1 1175.5,76.4 1178.5,76.8 1181.5,77.2 1184.5,77.6 1187.5,78.0 1190.5,78.4 1193.5,78.8 1196.5,79.3 1199.5,79.7 1202.5,80.2 1205.5,80.7 1208.5,81.2 1211.5,81.7 1214.5,82.2 1217.5,82.8 1220.5,83.4 1223.5,84.0 1226.5,84.6 1229.5,85.2 1232.5,85.8 1235.5,86.5 1238.5,87.2 1241.5,87.9 1244.5,88.6 1247.5,89.4 1250.5,90.1 1253.5,90.9 1256.5,91.7 1259.5,92.5 1262.5,93.4 1265.5,94.3 1268.5,95.2 1271.5,96.1 1274.5,97.1 1277.5,98.0 1280.5,99.0 1283.5,100.1 1286.5,101.1 1289.5,102.2 1292.5,103.3 1295.5,104.5 1298.5,105.7 1301.5,106.9 1304.5,108.1 1307.5,109.4 1310.5,110.7 1313.5,112.1 1316.5,113.5 1319.5,114.9 1322.5,116.3 1325.5,117.8 1328.5,119.3 1331.5,120.9 1334.5,122.5 1337.5,124.2 1340.5,125.9 1343.5,127.6 1346.5,129.4 1349.5,131.3 1352.5,133.1 1355.5,135.0 1358.5,137.0 1361.5,139.0 1364.5,141.0 1367.5,143.1 1370.5,145.3 1373.5,147.4 1376.5,149.7 1379.5,151.9 1382.5,154.3 1385.5,156.7 1388.5,159.1 1391.5,161.6 1394.5,164.2 1397.5,166.8 1400.5,169.4 1403.5,172.1 1406.5,174.8 1409.5,177.6 1412.5,180.4 1415.5,183.2 1418.5,186.0 1421.5,188.8 1424.5,191.7 1427.5,194.7 1430.5,197.6 1433.5,200.7 1436.5,203.8 1439.5,206.9 1442.5,210.1 1445.5,213.4 1448.5,216.7 1451.5,220.0 1454.5,223.4 1457.5,226.8 1460.5,230.2 1463.5,233.6 1466.5,237.1 1469.5,240.6 1472.5,244.1 1475.5,247.6 1478.5,251.1 1481.5,254.7 1484.5,258.2 1487.5,261.7 1490.5,265.3 1493.5,268.8 1496.5,272.3 1499.5,275.8 1502.5,279.3 1505.5,282.8 1508.5,286.3 1511.5,289.8 1514.5,293.2 1517.5,296.8 1520.5,300.3 1523.5,303.8 1526.5,307.3 1529.5,310.8 1532.5,314.4 1535.5,317.9 1538.5,321.5 1541.5,325.2 1544.5,328.9 1547.5,332.6 1550.5,336.3 1553.5,340.1 1556.5,343.8 1559.5,347.6 1562.5,351.4 1565.5,355.2 1568.5,359.0 1571.5,362.8 1574.5,366.5 1577.5,370.2 1580.5,373.9 1583.5,377.5 1586.5,381.1 1589.5,384.6 1592.5,388.1 1595.5,391.6 1598.5,394.9 1601.5,398.3 1604.5,401.6 1607.5,404.9 1610.5,408.2 1613.5,411.4 1616.5,414.7 1619.5,418.0 1622.5,421.3 1625.5,424.6 1628.5,427.9 1631.5,431.1 1634.5,434.4 1637.5,437.6 1640.5,440.8 1643.5,444.0 1646.5,447.2 1649.5,450.4 1652.5,453.5 1655.5,456.7 1658.5,459.8 1661.5,462.9 1664.5,466.0 1667.5,469.1 1670.5,472.1 1673.5,475.2 1676.5,478.2 1679.5,481.2 1682.5,484.2 1685.5,487.1 1688.5,490.0 1691.5,492.9 1694.5,495.7 1697.5,498.5 1700.5,501.3 1703.5,504.1 1706.5,506.9 1709.5,509.6 1712.5,512.3 1715.5,515.0 1718.5,517.7 1721.5,520.3 1724.5,522.9 1727.5,525.4 1730.5,527.9 1733.5,530.4 1736.5,532.9 1739.5,535.3 1742.5,537.7 1745.5,540.0 1747.8,541.7" fill="none" stroke="#ff8c8c" stroke-width="1.3"/>
<polyline points="1049.5,59.0 1052.5,59.1 1055.5,59.2 1058.5,59.3 1061.5,59.4 1064.5,59.5 1067.5,59.6 1070.5,59.7 1073.5,59.8 1076.5,60.0 1079.5,60.1 1082.5,60.2 1085.5,60.3 1088.5,60.4 1091.5,60.6 1094.5,60.7 1097.5,60.8 1100.5,61.0 1103.5,61.1 1106.5,61.3 1109.5,61.4 1112.5,61.6 1115.5,61.8 1118.5,61.9 1121.5,62.1 1124.5,62.3 1127.5,62.5 1130.5,62.7 1133.5,62.9 1136.5,63.1 1139.5,63.4 1142.5,63.6 1145.5,63.8 1148.5,64.1 1151.5,64.4 1154.5,64.6 1157.5,64.9 1160.5,65.2 1163.5,65.5 1166.5,65.8 1169.5,66.2 1172.5,66.5 1175.5,66.8 1178.5,67.2 1181.5,67.6 1184.5,68.0 1187.5,68.4 1190.5,68.8 1193.5,69.2 1196.5,69.7 1199.5,70.1 1202.5,70.6 1205.5,71.1 1208.5,71.6 1211.5,72.1 1214.5,72.6 1217.5,73.2 1220.5,73.8 1223.5,74.4 1226.5,75.0 1229.5,75.6 1232.5,76.2 1235.5,76.9 1238.5,77.6 1241.5,78.3 1244.5,79.0 1247.5,79.7 1250.5,80.5 1253.5,81.2 1256.5,82.0 1259.5,82.9 1262.5,83.7 1265.5,84.6 1268.5,85.5 1271.5,86.4 1274.5,87.3 1277.5,88.3 1280.5,89.3 1283.5,90.3 1286.5,91.4 1289.5,92.4 1292.5,93.6 1295.5,94.7 1298.5,95.9 1301.5,97.1 1304.5,98.3 1307.5,99.6 1310.5,100.9 1313.5,102.2 1316.5,103.6 1319.5,105.0 1322.5,106.4 1325.5,107.9 1328.5,109.4 1331.5,111.0 1334.5,112.6 1337.5,114.2 1340.5,115.9 1343.5,117.6 1346.5,119.4 1349.5,121.2 1352.5,123.0 1355.5,124.9 1358.5,126.8 1361.5,128.8 1364.5,130.8 1367.5,132.8 1370.5,134.9 1373.5,137.1 1376.5,139.3 1379.5,141.6 1382.5,143.8 1385.5,146.2 1388.5,148.6 1391.5,151.0 1394.5,153.5 1397.5,156.1 1400.5,158.7 1403.5,161.3 1406.5,164.0 1409.5,166.7 1412.5,169.4 1415.5,172.1 1418.5,174.9 1421.5,177.7 1424.5,180.6 1427.5,183.4 1430.5,186.4 1433.5,189.4 1436.5,192.4 1439.5,195.5 1442.5,198.7 1445.5,201.9 1448.5,205.1 1451.5,208.4 1454.5,211.7 1457.5,215.1 1460.5,218.5 1463.5,221.9 1466.5,225.3 1469.5,228.7 1472.5,232.2 1475.5,235.7 1478.5,239.2 1481.5,242.7 1484.5,246.2 1487.5,249.7 1490.5,253.2 1493.5,256.6 1496.5,260.1 1499.5,263.6 1502.5,267.0 1505.5,270.5 1508.5,273.9 1511.5,277.4 1514.5,280.8 1517.5,284.3 1520.5,287.8 1523.5,291.3 1526.5,294.8 1529.5,298.3 1532.5,301.9 1535.5,305.5 1538.5,309.1 1541.5,312.7 1544.5,316.4 1547.5,320.1 1550.5,323.9 1553.5,327.6 1556.5,331.4 1559.5,335.2 1562.5,339.0 1565.5,342.8 1568.5,346.6 1571.5,350.4 1574.5,354.1 1577.5,357.8 1580.5,361.5 1583.5,365.1 1586.5,368.7 1589.5,372.3 1592.5,375.8 1595.5,379.2 1598.5,382.6 1601.5,385.9 1604.5,389.3 1607.5,392.5 1610.5,395.8 1613.5,399.1 1616.5,402.4 1619.5,405.7 1622.5,409.0 1625.5,412.3 1628.5,415.6 1631.5,418.9 1634.5,422.1 1637.5,425.4 1640.5,428.7 1643.5,431.9 1646.5,435.1 1649.5,438.3 1652.5,441.5 1655.5,444.7 1658.5,447.8 1661.5,451.0 1664.5,454.1 1667.5,457.2 1670.5,460.3 1673.5,463.4 1676.5,466.4 1679.5,469.5 1682.5,472.5 1685.5,475.4 1688.5,478.4 1691.5,481.3 1694.5,484.1 1697.5,487.0 1700.5,489.8 1703.5,492.7 1706.5,495.5 1709.5,498.3 1712.5,501.0 1715.5,503.7 1718.5,506.4 1721.5,509.1 1724.5,511.7 1727.5,514.3 1730.5,516.9 1733.5,519.4 1736.5,521.9 1739.5,524.4 1742.5,526.8 1745.5,529.1 1747.8,530.9" fill="none" stroke="#ff0000" stroke-width="3.8" stroke-linejoin="round"/>
<polyline points="1049.5,261.3 1052.5,261.4 1055.5,261.4 1058.5,261.5 1061.5,261.6 1064.5,261.6 1067.5,261.7 1070.5,261.8 1073.5,261.8 1076.5,261.9 1079.5,262.0 1082.5,262.1 1085.5,262.1 1088.5,262.2 1091.5,262.3 1094.5,262.4 1097.5,262.5 1100.5,262.6 1103.5,262.7 1106.5,262.8 1109.5,262.9 1112.5,263.0 1115.5,263.1 1118.5,263.2 1121.5,263.3 1124.5,263.4 1127.5,263.5 1130.5,263.6 1133.5,263.7 1136.5,263.8 1139.5,264.0 1142.5,264.1 1145.5,264.2 1148.5,264.3 1151.5,264.5 1154.5,264.6 1157.5,264.7 1160.5,264.9 1163.5,265.0 1166.5,265.2 1169.5,265.3 1172.5,265.5 1175.5,265.6 1178.5,265.8 1181.5,266.0 1184.5,266.1 1187.5,266.3 1190.5,266.5 1193.5,266.7 1196.5,266.9 1199.5,267.0 1202.5,267.2 1205.5,267.4 1208.5,267.6 1211.5,267.8 1214.5,268.1 1217.5,268.3 1220.5,268.5 1223.5,268.7 1226.5,268.9 1229.5,269.2 1232.5,269.4 1235.5,269.7 1238.5,269.9 1241.5,270.2 1244.5,270.4 1247.5,270.7 1250.5,271.0 1253.5,271.3 1256.5,271.6 1259.5,271.8 1262.5,272.1 1265.5,272.4 1268.5,272.8 1271.5,273.1 1274.5,273.4 1277.5,273.7 1280.5,274.1 1283.5,274.4 1286.5,274.8 1289.5,275.1 1292.5,275.5 1295.5,275.9 1298.5,276.3 1301.5,276.7 1304.5,277.1 1307.5,277.5 1310.5,277.9 1313.5,278.3 1316.5,278.7 1319.5,279.2 1322.5,279.6 1325.5,280.1 1328.5,280.6 1331.5,281.0 1334.5,281.5 1337.5,282.0 1340.5,282.5 1343.5,283.0 1346.5,283.6 1349.5,284.1 1352.5,284.6 1355.5,285.2 1358.5,285.8 1361.5,286.4 1364.5,286.9 1367.5,287.5 1370.5,288.2 1373.5,288.8 1376.5,289.4 1379.5,290.1 1382.5,290.7 1385.5,291.4 1388.5,292.1 1391.5,292.8 1394.5,293.5 1397.5,294.2 1400.5,294.9 1403.5,295.7 1406.5,296.4 1409.5,297.2 1412.5,298.0 1415.5,298.8 1418.5,299.6 1421.5,300.4 1424.5,301.3 1427.5,302.1 1430.5,303.0 1433.5,303.9 1436.5,304.8 1439.5,305.7 1442.5,306.6 1445.5,307.6 1448.5,308.5 1451.5,309.5 1454.5,310.5 1457.5,311.5 1460.5,312.5 1463.5,313.5 1466.5,314.6 1469.5,315.6 1472.5,316.7 1475.5,317.8 1478.5,318.9 1481.5,320.0 1484.5,321.2 1487.5,322.3 1490.5,323.5 1493.5,324.7 1496.5,325.9 1499.5,327.1 1502.5,328.3 1505.5,329.6 1508.5,330.9 1511.5,332.1 1514.5,333.4 1517.5,334.8 1520.5,336.1 1523.5,337.4 1526.5,338.8 1529.5,340.2 1532.5,341.6 1535.5,343.0 1538.5,344.4 1541.5,345.9 1544.5,347.4 1547.5,348.8 1550.5,350.3 1553.5,351.9 1556.5,353.4 1559.5,354.9 1562.5,356.5 1565.5,358.1 1568.5,359.7 1571.5,361.3 1574.5,362.9 1577.5,364.5 1580.5,366.2 1583.5,367.9 1586.5,369.6 1589.5,371.3 1592.5,373.0 1595.5,374.7 1598.5,376.5 1601.5,378.2 1604.5,380.0 1607.5,381.8 1610.5,383.6 1613.5,385.5 1616.5,387.3 1619.5,389.2 1622.5,391.0 1625.5,392.9 1628.5,394.8 1631.5,396.7 1634.5,398.6 1637.5,400.6 1640.5,402.5 1643.5,404.5 1646.5,406.5 1649.5,408.5 1652.5,410.5 1655.5,412.5 1658.5,414.5 1661.5,416.6 1664.5,418.6 1667.5,420.7 1670.5,422.8 1673.5,424.9 1676.5,427.0 1679.5,429.1 1682.5,431.2 1685.5,433.4 1688.5,435.5 1691.5,437.7 1694.5,439.9 1697.5,442.1 1700.5,444.3 1703.5,446.5 1706.5,448.7 1709.5,450.9 1712.5,453.1 1715.5,455.4 1718.5,457.7 1721.5,459.9 1724.5,462.2 1727.5,464.5 1730.5,466.8 1733.5,469.1 1736.5,471.4 1739.5,473.7 1742.5,476.0 1745.5,478.4 1747.8,480.2" fill="none" stroke="#000" stroke-width="3.7" stroke-linejoin="round"/>
<path d="M1041.51,579.30V574.60M1041.51,33.70V38.40M1049.50,579.30V571.30M1049.50,33.70V41.70M1102.05,579.30V574.60M1102.05,33.70V38.40M1132.79,579.30V574.60M1132.79,33.70V38.40M1154.60,579.30V574.60M1154.60,33.70V38.40M1171.52,579.30V574.60M1171.52,33.70V38.40M1185.35,579.30V574.60M1185.35,33.70V38.40M1197.03,579.30V574.60M1197.03,33.70V38.40M1207.16,579.30V574.60M1207.16,33.70V38.40M1216.09,579.30V574.60M1216.09,33.70V38.40M1224.08,579.30V571.30M1224.08,33.70V41.70M1276.63,579.30V574.60M1276.63,33.70V38.40M1307.37,579.30V574.60M1307.37,33.70V38.40M1329.18,579.30V574.60M1329.18,33.70V38.40M1346.10,579.30V574.60M1346.10,33.70V38.40M1359.92,579.30V574.60M1359.92,33.70V38.40M1371.61,579.30V574.60M1371.61,33.70V38.40M1381.73,579.30V574.60M1381.73,33.70V38.40M1390.66,579.30V574.60M1390.66,33.70V38.40M1398.65,579.30V571.30M1398.65,33.70V41.70M1451.20,579.30V574.60M1451.20,33.70V38.40M1481.94,579.30V574.60M1481.94,33.70V38.40M1503.75,579.30V574.60M1503.75,33.70V38.40M1520.67,579.30V574.60M1520.67,33.70V38.40M1534.50,579.30V574.60M1534.50,33.70V38.40M1546.18,579.30V574.60M1546.18,33.70V38.40M1556.31,579.30V574.60M1556.31,33.70V38.40M1565.24,579.30V574.60M1565.24,33.70V38.40M1573.22,579.30V571.30M1573.22,33.70V41.70M1625.78,579.30V574.60M1625.78,33.70V38.40M1656.52,579.30V574.60M1656.52,33.70V38.40M1678.33,579.30V574.60M1678.33,33.70V38.40M1695.25,579.30V574.60M1695.25,33.70V38.40M1709.07,579.30V574.60M1709.07,33.70V38.40M1720.76,579.30V574.60M1720.76,33.70V38.40M1730.88,579.30V574.60M1730.88,33.70V38.40M1739.81,579.30V574.60M1739.81,33.70V38.40M1747.80,579.30V571.30M1747.80,33.70V41.70M1041.51,579.30H1049.51M1747.80,579.30H1739.80M1041.51,255.98H1049.51M1747.80,255.98H1739.80M1041.51,53.91H1049.51M1747.80,53.91H1739.80" fill="none" stroke="#262626" stroke-width="2"/>
<rect x="1041.51" y="33.70" width="706.29" height="545.60" fill="none" stroke="#262626" stroke-width="2"/>
<text x="986.19" y="63.40" font-size="31.0" letter-spacing="0.71">1.5</text>
<text x="1017.79" y="265.70" font-size="31.0">1</text>
<text x="985.26" y="588.50" font-size="31.0" letter-spacing="1.22">0.2</text>
<text x="1027.49" y="632.20" font-size="31.0">10</text>
<text x="1060.74" y="609.40" font-size="19.3" textLength="9.33" lengthAdjust="spacingAndGlyphs">-</text>
<text x="1068.89" y="609.40" font-size="19.3">2</text>
<text x="1201.29" y="632.20" font-size="31.0">10</text>
<text x="1234.54" y="609.40" font-size="19.3" textLength="9.33" lengthAdjust="spacingAndGlyphs">-</text>
<text x="1242.98" y="609.40" font-size="19.3">1</text>
<text x="1379.19" y="632.20" font-size="31.0">10</text>
<text x="1412.03" y="609.40" font-size="19.3">0</text>
<text x="1552.89" y="632.20" font-size="31.0">10</text>
<text x="1585.98" y="609.40" font-size="19.3">1</text>
<text x="1727.89" y="632.20" font-size="31.0">10</text>
<text x="1760.89" y="609.40" font-size="19.3">2</text>
<text class="pl" x="6.43" y="40.05" font-size="46.9" textLength="24.2" lengthAdjust="spacingAndGlyphs">a</text>
<text class="pl" x="943.23" y="39.9" font-size="45" textLength="29.5" lengthAdjust="spacingAndGlyphs">b</text>
<text x="35.5" y="490.5" font-size="45.7" transform="rotate(-90 35.5 490.5)">Adaptation rate</text>
<text x="976.7" y="489.1" font-size="45.7" transform="rotate(-90 976.7 489.1)">Adaptation rate</text>
<text x="442.1" y="681.9" font-size="46">Q</text>
<text x="1384.6" y="680.3" font-size="46">R</text>
<rect x="127.1" y="440.2" width="349.6" height="107.4" fill="#fff" stroke="#262626" stroke-width="2"/>
<line x1="134.5" y1="463.8" x2="206.4" y2="463.8" stroke="#000" stroke-width="3.7"/>
<line x1="134.5" y1="516.7" x2="206.4" y2="516.7" stroke="#ff0000" stroke-width="3.7"/>
<text class="lg" x="211.1" y="478.6" font-size="38.4">Gold</text>
<text class="lg" x="211.2" y="531.5" font-size="38.1">Conventional</text>
</svg>
</body></html>
